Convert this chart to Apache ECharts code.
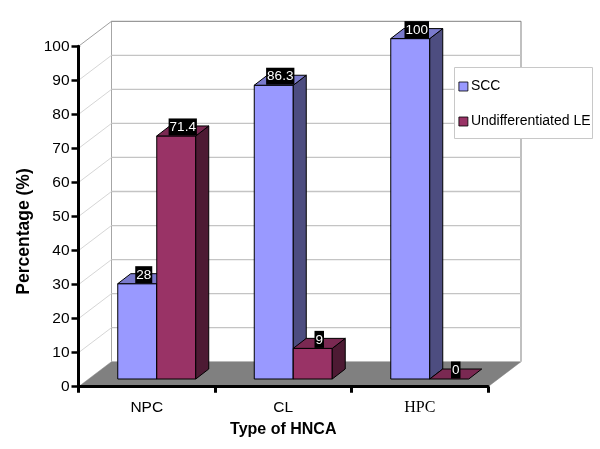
<!DOCTYPE html>
<html><head><meta charset="utf-8">
<style>html,body{margin:0;padding:0;background:#fff}#c{width:600px;height:449px}</style>
<script src="https://cdn.jsdelivr.net/npm/echarts@6/dist/echarts.min.js"></script>
</head><body><div id="c"></div>
<script>
var categories = ['NPC', 'CL', 'HPC'];
var sccValues = [28, 86.3, 100];
var leValues = [71.4, 9, 0];
var yTicks = [0, 10, 20, 30, 40, 50, 60, 70, 80, 90, 100];

var DX = 33, DY = -25;            // wall depth
var FX = 10, FY = -7.7;           // bar front plane shift
var BX = 13, BY = -10;            // bar depth
var BAR_FRAC = 0.2857;
var SANS = '"Liberation Sans", Arial, sans-serif';

function poly(pts, fill, stroke, lw) {
  return { type: 'polygon', shape: { points: pts },
    style: { fill: fill, stroke: stroke, lineWidth: lw === undefined ? 1 : lw } };
}
function seg(x1, y1, x2, y2, col, lw) {
  return { type: 'line', shape: { x1: x1, y1: y1, x2: x2, y2: y2 },
    style: { stroke: col, lineWidth: lw, fill: null } };
}
function wallItem(params, api) {
  var v = api.value(1);
  var cs = params.coordSys;
  var y = api.coord([0, v])[1];
  var xl = cs.x, xr = cs.x + cs.width;
  var ch = [];
  if (v === 0) {
    ch.push(poly([[xl, y], [xr, y], [xr + DX, y + DY], [xl + DX, y + DY]], '#808080', '#808080', 0.5));
    ch.push(seg(xl + DX, y + DY, xl + DX, cs.y + DY, '#a6a6a6', 1));
    ch.push(seg(xr + DX, y + DY, xr + DX, cs.y + DY, '#c0c0c0', 2));
  } else {
    ch.push(seg(xl, y, xl + DX, y + DY, v === 100 ? '#a0a0a0' : '#d6d6d6', 1));
    ch.push(seg(xl + DX, y + DY, xr + DX, y + DY, v === 100 ? '#808080' : '#c4c4c4', v === 100 ? 1 : 1.3));
  }
  return { type: 'group', children: ch };
}
function barRender(dir, front, top, side) {
  return function (params, api) {
    var idx = api.value(0), val = api.value(1);
    var p = api.coord([idx, val]), b = api.coord([idx, 0]);
    var w = api.size([1, 0])[0] * BAR_FRAC;
    var x0 = p[0] + FX + (dir < 0 ? -w : 0), x1 = x0 + w;
    var yt = p[1] + FY, yb = b[1] + FY;
    var ch = [];
    if (val > 0) {
      ch.push(poly([[x0, yb], [x1, yb], [x1, yt], [x0, yt]], front, '#000'));
      ch.push(poly([[x1, yb], [x1 + BX, yb + BY], [x1 + BX, yt + BY], [x1, yt]], side, '#000'));
    }
    ch.push(poly([[x0, yt], [x1, yt], [x1 + BX, yt + BY], [x0 + BX, yt + BY]], top, '#000'));
    ch.push({
      type: 'text', z2: 50,
      style: {
        x: (x0 + x1 + BX) / 2, y: yt - 0.5,
        text: String(val), align: 'center', verticalAlign: 'bottom',
        font: '13.5px ' + SANS, fill: '#fff', backgroundColor: '#000',
        padding: [2, 1, 1, 1]
      }
    });
    return { type: 'group', children: ch };
  };
}
function pairs(arr) { return arr.map(function (v, i) { return [i, v]; }); }

var chart = echarts.init(document.getElementById('c'), null, { renderer: 'canvas' });
chart.setOption({
  animation: false,
  backgroundColor: '#fff',
  grid: { left: 78.5, right: 112, top: 46.3, bottom: 62.3, containLabel: false },
  xAxis: {
    type: 'category', z: 5,
    data: categories.map(function (c) {
      return c === 'HPC'
        ? { value: c, textStyle: { fontFamily: '"Liberation Serif", serif', fontSize: 16 } }
        : c;
    }),
    axisLine: { lineStyle: { color: '#000', width: 3 } },
    axisTick: { show: true, alignWithLabel: false, length: 6, lineStyle: { color: '#000', width: 3 } },
    axisLabel: { color: '#000', fontFamily: SANS, fontSize: 15.5, margin: 13 },
    splitLine: { show: false },
    name: 'Type of HNCA', nameLocation: 'middle', nameGap: 35,
    nameTextStyle: { color: '#000', fontFamily: SANS, fontWeight: 'bold', fontSize: 16 }
  },
  yAxis: {
    type: 'value', min: 0, max: 100, interval: 10, z: 5,
    axisLine: { show: true, lineStyle: { color: '#000', width: 3 } },
    axisTick: { show: true, length: 7, lineStyle: { color: '#000', width: 2.5 } },
    axisLabel: { color: '#000', fontFamily: SANS, fontSize: 15.5, margin: 9 },
    splitLine: { show: false },
    name: 'Percentage (%)', nameLocation: 'middle', nameGap: 44,
    nameTextStyle: { color: '#000', fontFamily: SANS, fontWeight: 'bold', fontSize: 17.5, padding: [0, 30, 0, 0] }
  },
  legend: {
    data: ['SCC', 'Undifferentiated LE'], orient: 'vertical',
    left: 454.5, top: 67.5, width: 138, align: 'left',
    backgroundColor: '#fff', borderColor: '#c8c8c8', borderWidth: 1, borderRadius: 0,
    padding: [12, 2, 10, 4], itemWidth: 9, itemHeight: 9, itemGap: 21,
    icon: 'rect', itemStyle: { borderColor: '#000', borderWidth: 0.8 },
    textStyle: { color: '#000', fontFamily: SANS, fontSize: 14, padding: [0, 0, 0, -2] }
  },
  series: [
    { name: 'walls', type: 'custom', z: 1, clip: false, silent: true,
      data: pairs(yTicks).map(function (d) { return [0, d[1]]; }),
      encode: { x: 0, y: 1 }, renderItem: wallItem },
    { name: 'SCC', type: 'custom', z: 3, clip: false,
      data: pairs(sccValues), encode: { x: 0, y: 1 },
      itemStyle: { color: '#9999ff' },
      renderItem: barRender(-1, '#9999ff', '#7a7acc', '#4d4d80') },
    { name: 'Undifferentiated LE', type: 'custom', z: 4, clip: false,
      data: pairs(leValues), encode: { x: 0, y: 1 },
      itemStyle: { color: '#993366' },
      renderItem: barRender(1, '#993366', '#7a2952', '#4d1a33') }
  ]
});
</script></body></html>
